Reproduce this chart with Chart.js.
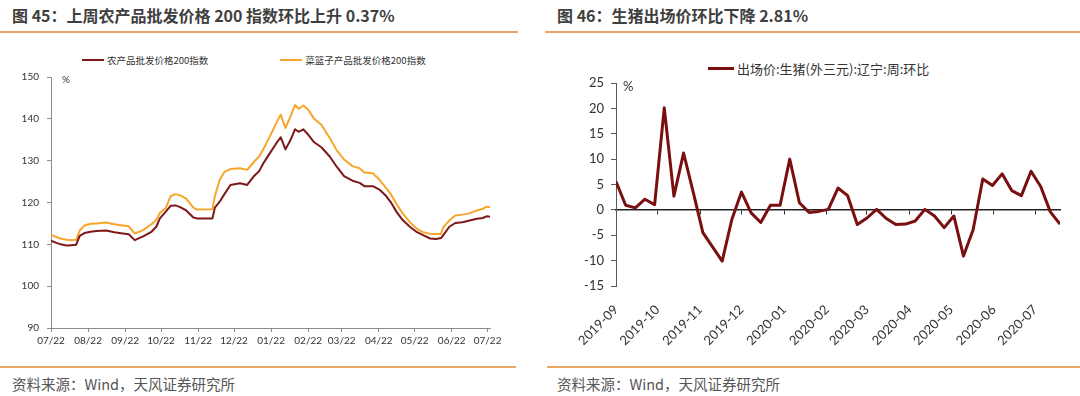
<!DOCTYPE html>
<html lang="zh-CN">
<head>
<meta charset="utf-8">
<script src="https://cdn.jsdelivr.net/npm/chart.js@4.4.1/dist/chart.umd.min.js"></script>
<style>
  html, body { margin: 0; padding: 0; background: #fff; }
  #page { position: relative; width: 1080px; height: 396px; overflow: hidden; font-family: "Noto Sans CJK SC", sans-serif; }
  .title { position: absolute; top: 4px; font-size: 16px; font-weight: bold; color: #3f3f3f; white-space: nowrap; line-height: 22px; }
  .rule { position: absolute; height: 2px; background: #eba765; }
  .source { position: absolute; top: 374px; font-size: 14.5px; color: #555; white-space: nowrap; line-height: 20px; }
  .legend { position: absolute; display: flex; align-items: center; white-space: nowrap; color: #333; }
  .legend .item { display: flex; align-items: center; }
  .legend .sw { display: inline-block; }
  canvas { position: absolute; }
</style>
</head>
<body>
<div id="page">
  <div class="title" style="left:12px">图 45：上周农产品批发价格 200 指数环比上升 0.37%</div>
  <div class="rule" style="left:0; top:31px; width:518px"></div>
  <div class="title" style="left:557px">图 46：生猪出场价环比下降 2.81%</div>
  <div class="rule" style="left:545px; top:31px; width:535px"></div>

  <div class="legend" id="leftLegend" style="left:82px; top:53px; font-size:9.5px; gap:72px"></div>
  <div class="legend" id="rightLegend" style="left:708px; top:59px; font-size:13px"></div>

  <canvas id="leftChart" width="520" height="320" style="left:0; top:40px"></canvas>
  <canvas id="rightChart" width="540" height="320" style="left:540px; top:40px"></canvas>

  <div class="rule" style="left:0; top:366px; width:516px"></div>
  <div class="rule" style="left:547px; top:366px; width:533px"></div>
  <div class="source" style="left:12px">资料来源：Wind，天风证券研究所</div>
  <div class="source" style="left:557px">资料来源：Wind，天风证券研究所</div>
</div>
<script>
// 图45 农产品 / 菜篮子 批发价格200指数
const leftDates = [
  '2021-07-22', '2021-07-26', '2021-07-30', '2021-08-04', '2021-08-08', '2021-08-12', '2021-08-15',
  '2021-08-19', '2021-08-24', '2021-08-29', '2021-09-06', '2021-09-13', '2021-09-20', '2021-09-25',
  '2021-09-30', '2021-10-07', '2021-10-14', '2021-10-18', '2021-10-21', '2021-10-26', '2021-10-30',
  '2021-11-03', '2021-11-07', '2021-11-12', '2021-11-18', '2021-11-21', '2021-12-04', '2021-12-06',
  '2021-12-10', '2021-12-14', '2021-12-19', '2021-12-27', '2022-01-02', '2022-01-08', '2022-01-12',
  '2022-01-16', '2022-01-21', '2022-01-26', '2022-01-30', '2022-02-03', '2022-02-07', '2022-02-11',
  '2022-02-14', '2022-02-18', '2022-02-22', '2022-02-27', '2022-03-05', '2022-03-12', '2022-03-18',
  '2022-03-24', '2022-03-31', '2022-04-06', '2022-04-10', '2022-04-17', '2022-04-23', '2022-04-28',
  '2022-05-02', '2022-05-07', '2022-05-12', '2022-05-18', '2022-05-24', '2022-05-29', '2022-06-04',
  '2022-06-09', '2022-06-13', '2022-06-15', '2022-06-20', '2022-06-25', '2022-07-01', '2022-07-07',
  '2022-07-13', '2022-07-18', '2022-07-21', '2022-07-24'
];
const nongValues = [
  110.9, 110.4, 110.0, 109.7, 109.8, 109.9, 112.0,
  112.7, 113.0, 113.2, 113.3, 112.9, 112.6, 112.4,
  111.0, 111.9, 113.0, 114.2, 116.2, 117.8, 119.2,
  119.3, 118.9, 118.1, 116.4, 116.2, 116.2, 118.8,
  120.2, 122.0, 124.2, 124.6, 124.2, 126.4, 127.5,
  129.6, 131.8, 134.0, 135.6, 132.7, 134.8, 137.5,
  136.9, 137.5, 136.2, 134.4, 133.2, 131.0, 128.5,
  126.3, 125.2, 124.7, 123.9, 123.9, 123.0, 121.6,
  120.1, 117.7, 115.8, 114.2, 112.9, 112.2, 111.4,
  111.3, 111.5, 112.2, 114.2, 115.1, 115.3, 115.7,
  116.1, 116.3, 116.7, 116.6
];
const caiValues = [
  112.3, 111.8, 111.4, 111.1, 111.0, 111.1, 113.3,
  114.5, 114.9, 115.0, 115.2, 114.8, 114.5, 114.3,
  112.6, 113.4, 114.8, 115.8, 117.5, 118.7, 121.5,
  122.0, 121.7, 120.9, 118.8, 118.3, 118.4, 121.5,
  125.4, 127.3, 128.0, 128.2, 127.8, 129.8, 131.0,
  133.0, 135.8, 138.8, 141.0, 137.8, 140.4, 143.3,
  142.4, 143.2, 142.2, 140.0, 138.6, 135.4, 132.4,
  130.3, 128.7, 128.2, 127.2, 127.0, 125.3, 123.5,
  122.0, 119.6, 117.4, 115.3, 113.7, 112.9, 112.5,
  112.5, 112.5, 114.1, 115.7, 116.9, 117.1, 117.4,
  118.1, 118.5, 119.0, 118.9
];
const leftTickDates = [
  '2021-07-22', '2021-08-22', '2021-09-22', '2021-10-22', '2021-11-22', '2021-12-22', '2022-01-22',
  '2022-02-22', '2022-03-22', '2022-04-22', '2022-05-22', '2022-06-22', '2022-07-22'
];
const leftTickLabels = ['07/22', '08/22', '09/22', '10/22', '11/22', '12/22', '01/22',
  '02/22', '03/22', '04/22', '05/22', '06/22', '07/22'];

// 图46 生猪出场价 周环比
const pigDates = [
  '2019-09-01', '2019-09-08', '2019-09-15', '2019-09-22', '2019-09-29', '2019-10-06', '2019-10-13',
  '2019-10-20', '2019-10-27', '2019-11-03', '2019-11-10', '2019-11-17', '2019-11-24', '2019-12-01',
  '2019-12-08', '2019-12-15', '2019-12-22', '2019-12-29', '2020-01-05', '2020-01-12', '2020-01-19',
  '2020-01-26', '2020-02-02', '2020-02-09', '2020-02-16', '2020-02-23', '2020-03-01', '2020-03-08',
  '2020-03-15', '2020-03-22', '2020-03-29', '2020-04-05', '2020-04-12', '2020-04-19', '2020-04-26',
  '2020-05-03', '2020-05-10', '2020-05-17', '2020-05-24', '2020-05-31', '2020-06-07', '2020-06-14',
  '2020-06-21', '2020-06-28', '2020-07-05', '2020-07-12', '2020-07-19'
];
const pigValues = [
  5.6, 0.9, 0.4, 2.1, 1.0, 20.1, 2.7,
  11.2, 3.5, -4.5, -7.3, -10.1, -1.9, 3.5,
  -0.6, -2.5, 0.9, 0.9, 10.0, 1.4, -0.5,
  -0.3, 0.1, 4.3, 2.8, -2.9, -1.6, 0.1,
  -1.7, -2.9, -2.8, -2.2, 0.1, -1.2, -3.5,
  -1.2, -9.1, -3.9, 6.1, 4.8, 7.1, 3.8,
  2.8, 7.6, 4.6, -0.4, -2.81
];
const pigTickLabels = ['2019-09', '2019-10', '2019-11', '2019-12', '2020-01', '2020-02',
  '2020-03', '2020-04', '2020-05', '2020-06', '2020-07'];

const DAY = 86400000;
function dayNum(s) {
  const p = s.split('-').map(Number);
  return Date.UTC(p[0], p[1] - 1, p[2] || 1) / DAY;
}
function toPoints(dates, values, start) {
  return dates.map((d, i) => ({ x: dayNum(d) - start, y: values[i] }));
}

Chart.defaults.font.family = 'Lato, "Noto Sans CJK SC", sans-serif';
Chart.defaults.color = '#333';

// "%" unit next to the y axis
const unitLabel = {
  id: 'unitLabel',
  afterDraw(chart, args, opts) {
    const { ctx, chartArea } = chart;
    ctx.save();
    ctx.font = opts.font;
    ctx.fillStyle = '#333';
    ctx.textBaseline = 'middle';
    ctx.fillText('%', chartArea.left + opts.dx, chartArea.top + opts.dy);
    ctx.restore();
  }
};

function buildLegend(el, chart, swWidth, swHeight) {
  chart.data.datasets.forEach(ds => {
    const item = document.createElement('div');
    item.className = 'item';
    const sw = document.createElement('span');
    sw.className = 'sw';
    sw.style.width = swWidth + 'px';
    sw.style.height = swHeight + 'px';
    sw.style.background = ds.borderColor;
    sw.style.marginRight = '3px';
    const txt = document.createElement('span');
    txt.textContent = ds.label;
    item.appendChild(sw);
    item.appendChild(txt);
    el.appendChild(item);
  });
}

// left chart
const leftStart = dayNum(leftDates[0]);
const leftTicks = leftTickDates.map(d => dayNum(d) - leftStart);
const leftChart = new Chart(document.getElementById('leftChart'), {
  type: 'line',
  data: {
    datasets: [
      { label: '农产品批发价格200指数', data: toPoints(leftDates, nongValues, leftStart),
        borderColor: '#7d1719', borderWidth: 2 },
      { label: '菜篮子产品批发价格200指数', data: toPoints(leftDates, caiValues, leftStart),
        borderColor: '#f6a62b', borderWidth: 2 }
    ]
  },
  options: {
    responsive: false,
    animation: false,
    elements: { point: { radius: 0 }, line: { tension: 0, borderJoinStyle: 'round' } },
    layout: { padding: { top: 37, right: 30, left: 0, bottom: 0 } },
    plugins: {
      legend: { display: false },
      tooltip: { enabled: false },
      unitLabel: { dx: 11, dy: 3, font: '10px Lato' }
    },
    scales: {
      x: {
        type: 'linear',
        min: 0,
        max: dayNum(leftDates[leftDates.length - 1]) - leftStart,
        afterBuildTicks: s => { s.ticks = leftTicks.map(v => ({ value: v })); },
        afterFit: s => { s.height = 32; },
        ticks: { callback: (v, i) => leftTickLabels[i], maxRotation: 0, autoSkip: false, padding: 3, font: { size: 10 } },
        grid: { drawOnChartArea: false, tickLength: 4, color: '#8c8c8c' },
        border: { color: '#8c8c8c' }
      },
      y: {
        min: 90,
        max: 150,
        afterFit: s => { s.width = 51; },
        ticks: { stepSize: 10, padding: 8, font: { size: 10 } },
        grid: { drawOnChartArea: false, tickLength: 4, color: '#8c8c8c' },
        border: { color: '#8c8c8c' }
      }
    }
  },
  plugins: [unitLabel]
});
buildLegend(document.getElementById('leftLegend'), leftChart, 22, 2);

// right chart
const pigStart = dayNum(pigDates[0]);
const pigTicks = pigTickLabels.map(m => dayNum(m) - pigStart);
const pigMax = dayNum(pigDates[pigDates.length - 1]) - pigStart;
const rightChart = new Chart(document.getElementById('rightChart'), {
  type: 'line',
  data: {
    datasets: [
      { label: '出场价:生猪(外三元):辽宁:周:环比', data: toPoints(pigDates, pigValues, pigStart),
        borderColor: '#7a0f10', borderWidth: 3, xAxisID: 'x', yAxisID: 'y' }
    ]
  },
  options: {
    responsive: false,
    animation: false,
    elements: { point: { radius: 0 }, line: { tension: 0, borderJoinStyle: 'round' } },
    layout: { padding: { top: 43, right: 20, left: 0, bottom: 0 } },
    plugins: {
      legend: { display: false },
      tooltip: { enabled: false },
      unitLabel: { dx: 7, dy: 4, font: '13px Lato' }
    },
    scales: {
      x: {
        type: 'linear',
        min: 0,
        max: pigMax,
        afterBuildTicks: s => { s.ticks = pigTicks.map(v => ({ value: v })); },
        afterFit: s => { s.height = 74; },
        ticks: { callback: (v, i) => pigTickLabels[i], minRotation: 45, maxRotation: 45, autoSkip: false, padding: 8, font: { size: 13 } },
        grid: { display: false },
        border: { display: false }
      },
      x0: {
        type: 'linear',
        min: 0,
        max: pigMax,
        position: { y: 0 },
        afterBuildTicks: s => { s.ticks = pigTicks.map(v => ({ value: v })); },
        ticks: { display: false },
        grid: { drawOnChartArea: false, tickLength: 4, color: '#333' },
        border: { color: '#222', width: 1.5 }
      },
      y: {
        min: -15,
        max: 25,
        afterFit: s => { s.width = 76; },
        ticks: { stepSize: 5, padding: 7, font: { size: 13 } },
        grid: { drawOnChartArea: false, tickLength: 5, color: '#595959' },
        border: { color: '#595959' }
      }
    }
  },
  plugins: [unitLabel]
});
buildLegend(document.getElementById('rightLegend'), rightChart, 26, 3);
</script>
</body>
</html>
